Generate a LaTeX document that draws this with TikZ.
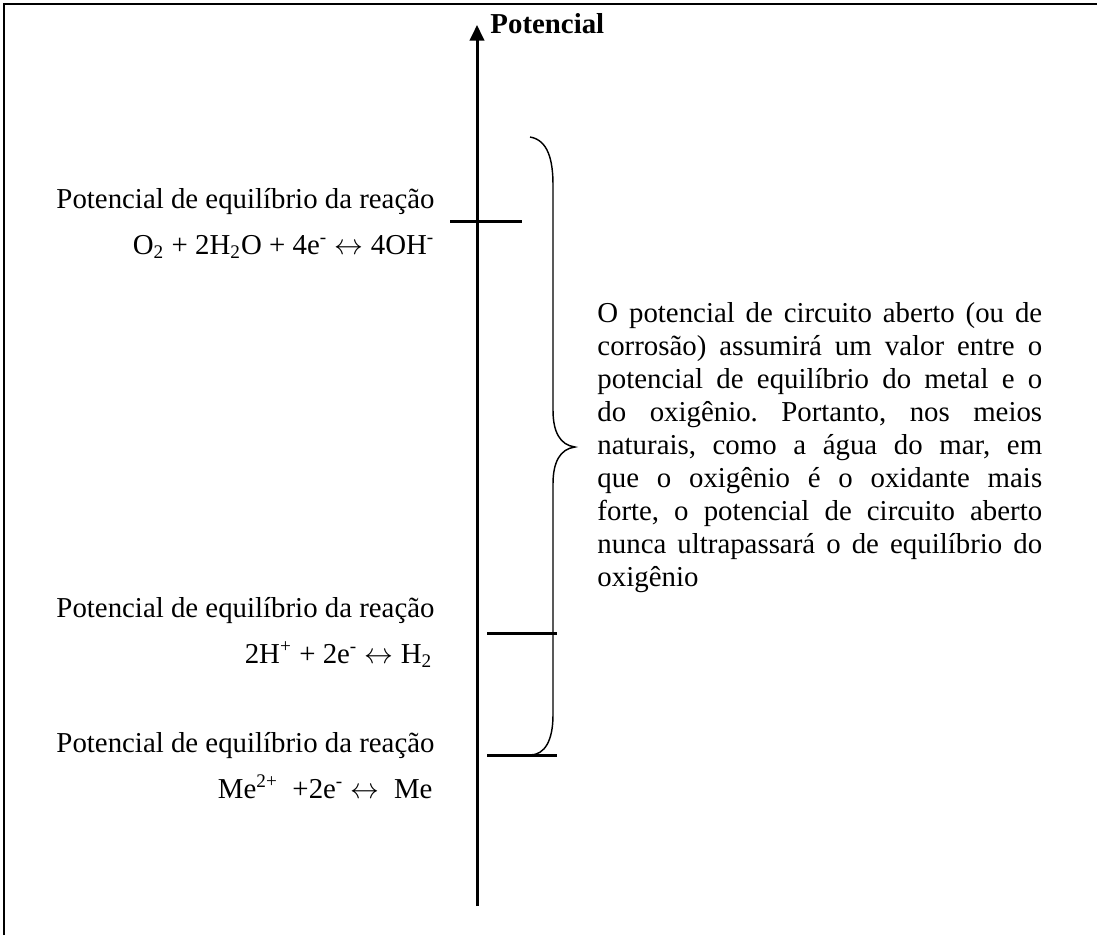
\documentclass[tikz,border=0pt]{standalone}
\usepackage{fontspec}
\setmainfont{Liberation Serif}
\usetikzlibrary{arrows.meta}
\newcommand\jline[1]{\makebox[185pt][s]{#1}}
\newcommand\lra{\ensuremath{\leftrightarrow}}
\frenchspacing
\begin{document}
\begin{tikzpicture}[x=0.416pt,y=-0.416pt,
  frameline/.style={line width=0.8pt},
  axisline/.style={line width=1.25pt,-{Triangle[width=6pt,length=6.5pt]}},
  tickline/.style={line width=1.25pt},
  braceline/.style={line width=0.6pt},
  lab/.style={inner sep=0pt,anchor=base east,font=\fontsize{12}{13}\selectfont},
  para/.style={inner sep=0pt,anchor=north west,align=left,font=\fontsize{12}{13.73}\selectfont}]
\useasboundingbox (0,0) rectangle (1097,935);
% frame
\coordinate (fbl) at (4,935);
\coordinate (ftl) at (4,4);
\coordinate (ftr) at (1097,4);
\draw[frameline] (fbl) -- (ftl) -- (ftr);
% axis
\coordinate (axb) at (477,906);
\coordinate (axt) at (477,25);
\draw[axisline] (axb) -- (axt);
\node[inner sep=0pt,anchor=base west,font=\fontsize{12}{13}\selectfont\bfseries] (title) at (490,33) {Potencial};
% ticks
\coordinate (t1a) at (450,221); \coordinate (t1b) at (522,221);
\coordinate (t2a) at (487,633); \coordinate (t2b) at (557,633);
\coordinate (t3a) at (487,755); \coordinate (t3b) at (557,755);
\draw[tickline] (t1a) -- (t1b);
\draw[tickline] (t2a) -- (t2b);
\draw[tickline] (t3a) -- (t3b);
% brace
\coordinate (brtop) at (530,137);
\coordinate (brtip) at (575,447);
\coordinate (brbot) at (530,755);
\draw[braceline] (brtop) .. controls (548,140) and (553,160) .. (553,185) -- (553,410)
  .. controls (553,432) and (560,445) .. (brtip)
  .. controls (560,449) and (553,462) .. (553,484) -- (553,715)
  .. controls (553,740) and (545,755) .. (brbot);
% labels
\node[lab] (l1a) at (435,208) {Potencial de equilíbrio da reação};
\node[lab] (l1b) at (435,254) {O\textsubscript{2} + 2H\textsubscript{2}O + 4e\textsuperscript{-} \lra{} 4OH\textsuperscript{-}};
\node[lab] (l2a) at (435,617) {Potencial de equilíbrio da reação};
\node[lab] (l2b) at (433,663) {2H\textsuperscript{+} + 2e\textsuperscript{-} \lra{} H\textsubscript{2}};
\node[lab] (l3a) at (435,752) {Potencial de equilíbrio da reação};
\node[lab] (l3b) at (433,798) {Me\textsuperscript{2+}\ \ +2e\textsuperscript{-} \lra\ \ Me};
% paragraph
\node[para] (desc) at (597,302) {%
\jline{O potencial de circuito aberto (ou de}\\
\jline{corrosão) assumirá um valor entre o}\\
\jline{potencial de equilíbrio do metal e o}\\
\jline{do oxigênio. Portanto, nos meios}\\
\jline{naturais, como a água do mar, em}\\
\jline{que o oxigênio é o oxidante mais}\\
\jline{forte, o potencial de circuito aberto}\\
\jline{nunca ultrapassará o de equilíbrio do}\\
oxigênio};
\end{tikzpicture}
\end{document}
